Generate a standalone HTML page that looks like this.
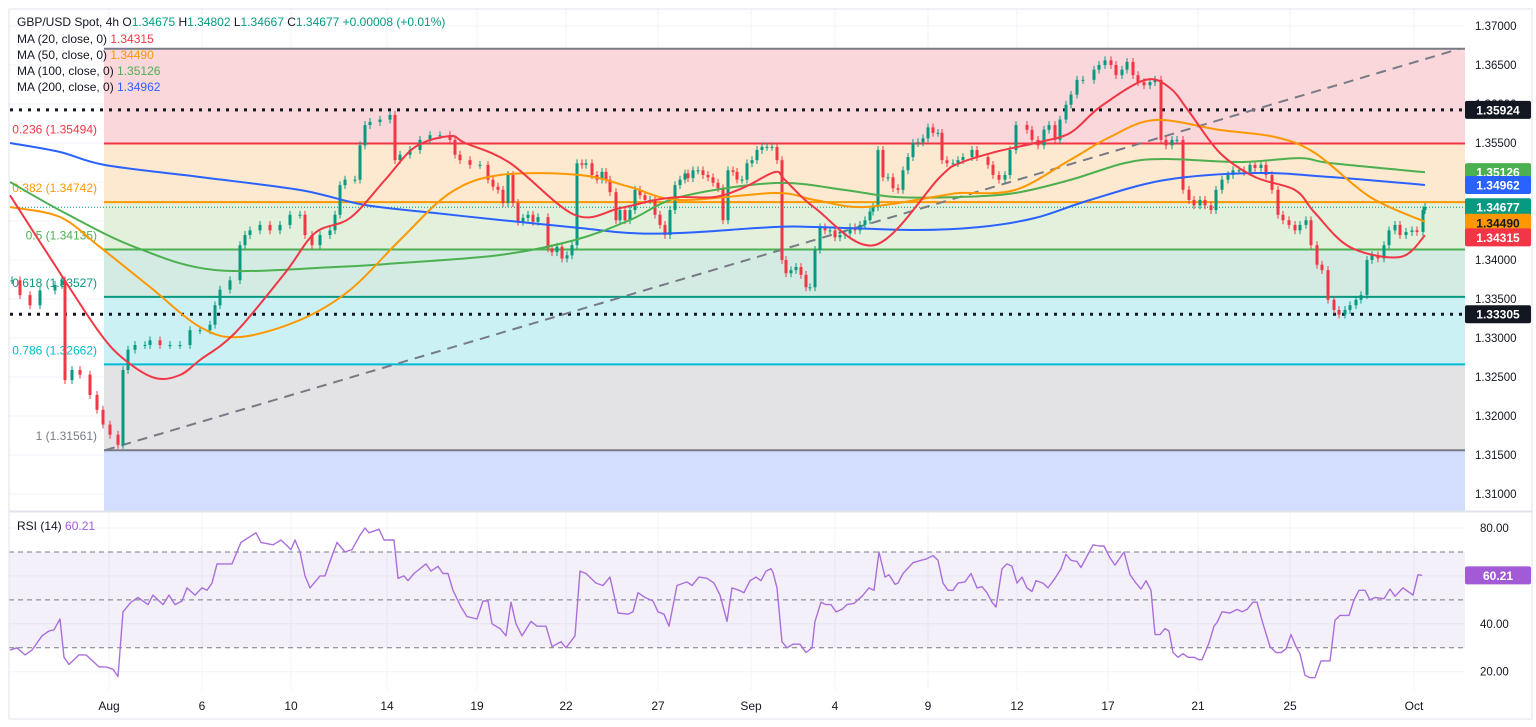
<!DOCTYPE html>
<html><head><meta charset="utf-8"><style>
html,body{margin:0;padding:0;background:#fff;}
svg{display:block;font-family:"Liberation Sans",sans-serif;}
</style></head><body>
<svg id="chart" width="1536" height="727" viewBox="0 0 1536 727" xmlns="http://www.w3.org/2000/svg">
<defs><clipPath id="mainClip"><rect x="9" y="9" width="1456" height="502"/></clipPath>
<clipPath id="rsiClip"><rect x="9" y="512" width="1456" height="178"/></clipPath></defs>
<g id="grid"></g>
<g id="fib" clip-path="url(#mainClip)"></g>
<g id="lines" clip-path="url(#mainClip)"></g>
<g id="candles" clip-path="url(#mainClip)"></g>
<g id="mas" clip-path="url(#mainClip)"></g>
<g id="rsi"></g>
<g id="axes"></g>
<g id="legend" font-size="12">
  <text x="17" y="26" fill="#131722">GBP/USD Spot, 4h <tspan fill="#131722"> O</tspan><tspan fill="#089981">1.34675</tspan><tspan fill="#131722"> H</tspan><tspan fill="#089981">1.34802</tspan><tspan fill="#131722"> L</tspan><tspan fill="#089981">1.34667</tspan><tspan fill="#131722"> C</tspan><tspan fill="#089981">1.34677 +0.00008 (+0.01%)</tspan></text>
  <text x="17" y="43" fill="#131722">MA (20, close, 0) <tspan fill="#f23645">1.34315</tspan></text>
  <text x="17" y="59" fill="#131722">MA (50, close, 0) <tspan fill="#ff9800">1.34490</tspan></text>
  <text x="17" y="75" fill="#131722">MA (100, close, 0) <tspan fill="#4caf50">1.35126</tspan></text>
  <text x="17" y="91" fill="#131722">MA (200, close, 0) <tspan fill="#2962ff">1.34962</tspan></text>
  <text x="17" y="530" fill="#131722">RSI (14) <tspan fill="#a25ad6">60.21</tspan></text>
</g>
</svg>
<script>
// ---- data ----
const candleT = [2.4,4,6,8,11,12.4,13,14.4,16,18,19.4,20.6,22,23.6,24.6,25.6,27,29,30,32,34,36,38,40,42,43,44,46,48,49,50,52,54,56,58,60,61,62.4,64,66,67,68,69,71,72,73,74,76,78,79,80,82,84,86,88,90,91,92,94,96,
97.6,98.6,99.6,100.6,101.6,102.6,103.6,104.6,105.6,106.6,107.6,109.6,110.4,111.4,112.4,113.4,114.4,115.4,116.4,117.2,118.4,119.4,120.4,121.2,122,123.2,124,125,126,127,128,129,130,131,132,133,134,135,136,137,137.6,138.6,139.6,140.6,141.6,142.6,143.6,144.6,145.6,146.6,147.4,148.4,149.4,150.4,151.4,152.4,153.4,154.4,155.4,156.4,157.2,158.2,159.2,160.2,161.2,162,163,164,165,166,167,168,169,170,171,172,173,174,174.6,175.6,176.6,177.6,178.6,179.6,180.6,181.6,182.6,183.6,184.6,185.6,186.6,187.6,188.4,189.4,190.6,191.6,192.6,194.4,195.4,
197.6,198.6,199.8,201,202,203.2,205.4,206.4,207.6,208.8,209.8,211,212,213.2,214.2,215.4,216.6,218.8,219.8,221,222.2,223.2,224.4,225.4,226.6,227.6,228.8,230,231,232.2,233.2,234.4,235.4,236.6,237.8,238.8,240,241,242.2,243.2,244.4,245.6,246.6,247.8,248.8,250,251,252.2,253.2,254.4,255.6,256.6,257.8,259,260,261.2,262.2,263.4,264.4,265.6,266.8,267.8,269,270,271.2,272.2,273.4,274.4,275.6,276.8,277.8,279,280,281.2,282.4,283.4,284.6,285];
const candleClose = [1.3374,1.3355,1.3342,1.3361,1.3368,1.3374,1.3246,1.3259,1.3253,1.3227,1.3208,1.3189,1.3176,1.3163,1.3259,1.3285,1.3291,1.3291,1.3297,1.3291,1.3291,1.3291,1.3310,1.3310,1.3317,1.3342,1.3362,1.3374,1.3419,1.3432,1.3438,1.3445,1.3438,1.3445,1.3458,1.3458,1.3432,1.3419,1.3432,1.3438,1.3458,1.3496,1.3503,1.3503,1.3547,1.3573,1.3577,1.3580,1.3586,1.3528,1.3535,1.3541,1.3554,1.3560,1.3560,1.3554,1.3535,1.3528,1.3522,1.3522,
1.3503,1.3494,1.3490,1.3473,1.3509,1.3473,1.3449,1.3454,1.3458,1.3449,1.3455,1.3415,1.3410,1.3417,1.3402,1.3406,1.3419,1.3524,1.3522,1.3524,1.3509,1.3503,1.3513,1.3503,1.3487,1.3451,1.3464,1.3451,1.3464,1.3490,1.3483,1.3477,1.3477,1.3458,1.3445,1.3432,1.3464,1.3496,1.3503,1.3511,1.3505,1.3515,1.3515,1.3509,1.3506,1.3499,1.3492,1.3451,1.3515,1.3513,1.3503,1.3503,1.3524,1.3528,1.3541,1.3545,1.3545,1.3545,1.3528,1.3400,1.3383,1.3387,1.3391,1.3381,1.3365,1.3365,1.3413,1.3442,1.3438,1.3438,1.3429,1.3432,1.3434,1.3442,1.3438,1.3445,1.3451,1.3462,1.3468,1.3541,1.3506,1.3506,1.3492,1.3490,1.3515,1.3532,1.3550,1.3551,1.3556,1.3570,1.3563,1.3563,1.3528,1.3524,1.3524,1.3528,1.3532,1.3541,1.3532,
1.3522,1.3509,1.3503,1.3509,1.3541,1.3573,1.3567,1.3554,1.3547,1.3567,1.3573,1.3554,1.3580,1.3599,1.3612,1.3631,1.3631,1.3644,1.3650,1.3656,1.3650,1.3637,1.3644,1.3654,1.3637,1.3628,1.3624,1.3628,1.3631,1.3554,1.3547,1.3554,1.3554,1.3490,1.3477,1.3470,1.3477,1.3470,1.3464,1.3490,1.3503,1.3509,1.3515,1.3515,1.3513,1.3522,1.3518,1.3522,1.3509,1.3490,1.3458,1.3451,1.3445,1.3438,1.3445,1.3451,1.3419,1.3394,1.3387,1.3349,1.3336,1.3330,1.3336,1.3342,1.3349,1.3355,1.3400,1.3406,1.3402,1.3419,1.3438,1.3445,1.3432,1.3436,1.3438,1.3436,1.3464,1.3468];

const ma20T = [2,12,20,25,31,36,40,47,57,63,70,77,83,90,93,102,115,124,131,136,143,149,155,157,163,175,188,192,199,207,214,220,229,234,238,244,251,259,263,270,280,285];
const ma20V = [1.3483,1.33833,1.3306,1.32718,1.32487,1.32526,1.32718,1.33064,1.33833,1.34346,1.34538,1.35026,1.35448,1.35589,1.355,1.35243,1.34577,1.34666,1.34769,1.34808,1.34808,1.34936,1.35128,1.35026,1.34666,1.34192,1.35064,1.35243,1.35384,1.355,1.35628,1.35961,1.36308,1.36205,1.35884,1.35372,1.35064,1.34897,1.34602,1.34166,1.34038,1.34315];
const ma50T = [2,12,20,30,40,48,60,70,80,90,100,116,126,136,155,163,173,189,192,203,214,222,231,244,255,263,274,285];
const ma50V = [1.34679,1.34551,1.34166,1.33654,1.33141,1.33013,1.33231,1.33615,1.34256,1.34859,1.3509,1.3509,1.34936,1.34769,1.34859,1.34769,1.34679,1.34833,1.34859,1.34897,1.35282,1.35577,1.35795,1.35667,1.35577,1.35372,1.34808,1.3449];
const ma100T = [2,13,27,43,67,80,100,115,126,136,155,169,179,192,203,214,225,233,248,260,266,285];
const ma100V = [1.35,1.34602,1.34166,1.33872,1.3391,1.33961,1.34064,1.34256,1.34513,1.34808,1.34987,1.34897,1.34808,1.34808,1.34859,1.35026,1.35243,1.35295,1.35256,1.35307,1.35243,1.35126];
const ma200T = [2,12,21,40,60,73,87,100,116,126,136,155,163,183,196,207,218,233,251,266,285];
const ma200V = [1.355,1.35384,1.35218,1.35064,1.34897,1.34705,1.34602,1.34513,1.3441,1.34346,1.34346,1.34423,1.34423,1.34385,1.34423,1.34538,1.34769,1.35026,1.35115,1.35064,1.34962];

const rsiT = [2,3.4,5,6.4,8.4,9.8,10.8,12,12.8,13.8,15.8,17.2,19.8,21.2,22.6,23.6,24.6,26.2,27.6,29.6,30.6,32.6,33.8,35,36.4,37.4,39,40.4,41.4,42.4,43.4,46.4,48.2,51.2,52.2,54.6,56.2,58.2,59,60,61,62,64,65,66,67.4,69,70.4,72,73,73.8,75.8,76.8,78.8,79.6,80.8,81.6,82.8,85.2,86.2,87.6,88.6,89.6,90.6,92.2,93.4,95.4,96.6,97.6,98.4,100,101.2,102.2,103.2,104.4,106.2,107.4,109.2,110.4,112.2,113.2,115,116,117.2,119.2,120.6,122,123.6,125.6,126.6,127.6,129,130.6,131.6,132.8,133.8,135.4,137.4,138.4,139.8,141.4,142.8,144,145.4,146.4,147.8,148.8,150,151.2,152.2,153.2,154.2,154.6,155.4,156.4,157.4,158.6,160,161.2,162.4,163,164.2,165.2,166.2,167.2,168.4,169.4,170.8,172.4,173.8,174.8,175.8,177,177.8,179,179.6,180.6,182.6,184.2,185.2,186.6,187.6,188.6,189.6,190.6,191.6,193,194.2,195.4,196.4,197.4,198.4,199.2,200.4,201.4,202.4,203.4,204.4,205.4,206.4,207.2,208.6,209.6,211,212.2,213.2,214.2,215.4,216.2,218.6,219.8,220.8,222,223,224.8,226,227.2,228.2,229.2,230.2,231,232,233,233.8,234.6,235.6,236.6,237.6,238.8,239.8,240.4,241.8,242.8,243.4,244.4,246,247.4,248.4,249.4,250.6,251.4,252.6,254,255.2,256.2,257.2,258.2,259.2,260,261,262,263,264.2,266,267,268,269.8,270.8,271.8,273,274,275,276.8,278,279,280.6,281.6,282.6,283.6,284.4];
const rsiV = [29,30,27,29,35,37,37.5,42,26,23,27,27,22,22,21,18,45,49,51,48,52,48,52,48,49.5,55,52,55,54,57,65,65,74,78,74,73,75,71,75,70,60,55,60,60,66,74,70,71,77,80,78,79.5,75,75,59,60,58,61,65,62,64,61,61,54,47,43,42,49.5,49.5,40,38,35,49,40,35,41,39,39,30.5,32.5,30,35,62,61,57,56,59.5,44.5,44,45,53,51,49.5,45,44,39,56,57.5,56,59.5,59,57,52,41,55,54,53,58,59.5,58,62,63,61.5,55,32.5,30,31.5,31.5,28,30,41,49,48,48,45,46,48,48.5,51.5,55,54,70,59.5,60.5,56.5,57,61,65.5,66.5,67,68.5,66.5,57,54,54,57,57.5,61,55,55.5,53,49,47,63,65,64,57,59.5,55,53.5,58,57,55,59,63,69,66.5,66,63.5,73,72.5,72.5,67.5,64.5,70,60.5,57,54.5,58,54,35.5,35.5,38,37,28,26,27.5,26,26,25,25,32,39,40.5,45,44.5,46,45,46,49,49,40,30.5,28,28,29.5,35.5,30.5,27.5,18.5,17.5,17.5,24.5,24.5,41.5,43.5,43.5,50,54,54,50,51,50.5,54.5,51.5,55,53.5,52,60.5,60.2];

const priceTicks = [1.37,1.365,1.36,1.355,1.35,1.345,1.34,1.335,1.33,1.325,1.32,1.315,1.31];
const priceTickLabels = ["1.37000","1.36500","1.36000","1.35500","1.35000","1.34500","1.34000","1.33500","1.33000","1.32500","1.32000","1.31500","1.31000"];
const rsiTicks = [80,60,40,20];
const rsiTickLabels = ["80.00","60.00","40.00","20.00"];
const dateLabels = ["Aug","6","10","14","19","22","27","Sep","4","9","12","17","21","25","Oct"];
const dateT = [21.8,40.4,58.2,77.4,95.4,113.2,131.6,150.2,167,185.6,203.4,221.6,239.6,258,282.8];
const fibRatios = ["0","0.236","0.382","0.5","0.618","0.786","1"];
const fibPrices = [1.36709,1.35494,1.34742,1.34135,1.33527,1.32662,1.31561];
const fibStartT = 20.8;
const trendT = [21, 292];
const trendV = [1.31561, 1.36709];
const keyLevels = [1.35924, 1.33305];
const lastPrice = 1.34677;
const maLast = [1.34315,1.3449,1.35126,1.34962];
const rsiLast = 60.21;

// ---- scales ----
const NS = "http://www.w3.org/2000/svg";
const xS = t => t * 5;
const yP = p => 26 + (1.37 - p) * 7800;
const yR = v => 528 + (80 - v) * 2.395;
const PR = 1465;
function mk(tag, attrs, parent) { const e = document.createElementNS(NS, tag); for (const k in attrs) e.setAttribute(k, attrs[k]); parent.appendChild(e); return e; }
const G = id => document.getElementById(id);

// grid
const grid = G('grid');
priceTicks.forEach(p => { const l = mk('line', {x1: 9, x2: PR, y1: yP(p), y2: yP(p), stroke: '#f0f3fa'}, grid);

 });
rsiTicks.forEach(v => { const l = mk('line', {x1: 9, x2: PR, y1: yR(v), y2: yR(v), stroke: '#f0f3fa'}, grid);

 });
dateT.forEach(t => { const l = mk('line', {x1: xS(t), x2: xS(t), y1: 9, y2: 690, stroke: '#f0f3fa'}, grid);

 });

// fib
const fib = G('fib');
const fibFill = ['#fad7da','#fde9cf','#e2f0dc','#d3ebe2','#ccf1f4','#e3e3e5'];
const fibLine = ['#787b86','#f23645','#ff9800','#4caf50','#089981','#00bcd4','#787b86'];
const fx = xS(fibStartT);
for (let i = 0; i < fibPrices.length - 1; i++) {
  const r = mk('rect', {x: fx, y: yP(fibPrices[i]), width: PR - fx, height: yP(fibPrices[i+1]) - yP(fibPrices[i]), fill: fibFill[i]}, fib);
  
  
}
{ const r = mk('rect', {x: fx, y: yP(fibPrices[6]), width: PR - fx, height: 511 - yP(fibPrices[6]), fill: '#d3defe'}, fib);
  
   }
fibPrices.forEach((p, i) => {
  const l = mk('line', {x1: fx, x2: PR, y1: yP(p), y2: yP(p), stroke: fibLine[i], 'stroke-width': 2}, fib);
  
  
  if (i > 0) {
    const tx = mk('text', {x: 97, y: yP(p) - 10, 'text-anchor': 'end', 'font-size': 12, fill: fibLine[i]}, fib);
    tx.textContent = fibRatios[i] + ' (' + p.toFixed(5) + ')';
    
    
  }
});

// key lines
const lines = G('lines');
keyLevels.forEach(p => { const l = mk('line', {x1: 10, x2: PR, y1: yP(p), y2: yP(p), stroke: '#131722', 'stroke-width': 3, 'stroke-dasharray': '3 6'}, lines);

 });
{ const l = mk('line', {x1: 10, x2: PR, y1: yP(lastPrice), y2: yP(lastPrice), stroke: '#089981', 'stroke-width': 1, 'stroke-dasharray': '1 2'}, lines);

 }
{ const l = mk('line', {x1: xS(trendT[0]), x2: xS(trendT[1]), y1: yP(trendV[0]), y2: yP(trendV[1]), stroke: '#787b86', 'stroke-width': 2, 'stroke-dasharray': '10 7'}, lines);

 }

// candles
const cg = G('candles');
candleClose.forEach((c, i) => {
  const o = i > 0 ? candleClose[i-1] : c;
  const up = c >= o;
  const col = up ? '#089981' : '#f23645';
  const x = xS(candleT[i]);
  const hi = Math.max(o, c) + 0.0005, lo = Math.min(o, c) - 0.0005;
  const w = mk('line', {x1: x, x2: x, y1: yP(hi), y2: yP(lo), stroke: col, 'stroke-width': 1}, cg);
  
  
  const yt = yP(Math.max(o, c)), yb = yP(Math.min(o, c));
  const b = mk('rect', {x: x - 1.5, y: yt, width: 3, height: Math.max(1, yb - yt), fill: col}, cg);
  
  
});

// MAs (smooth)
const mg = G('mas');
function smoothPath(ts, vs, yf) {
  const P = ts.map((t, i) => [xS(t), yf(vs[i])]);
  let d = 'M' + P[0][0].toFixed(1) + ',' + P[0][1].toFixed(1);
  for (let i = 0; i < P.length - 1; i++) {
    const p0 = P[Math.max(0, i-1)], p1 = P[i], p2 = P[i+1], p3 = P[Math.min(P.length-1, i+2)];
    const c1x = p1[0] + (p2[0]-p0[0])/6, c1y = p1[1] + (p2[1]-p0[1])/6;
    const c2x = p2[0] - (p3[0]-p1[0])/6, c2y = p2[1] - (p3[1]-p1[1])/6;
    d += ' C' + c1x.toFixed(1) + ',' + c1y.toFixed(1) + ' ' + c2x.toFixed(1) + ',' + c2y.toFixed(1) + ' ' + p2[0].toFixed(1) + ',' + p2[1].toFixed(1);
  }
  return d;
}
function maLine(ts, vs, col, name) {
  const p = mk('path', {d: smoothPath(ts, vs, yP), fill: 'none', stroke: col, 'stroke-width': 2, 'stroke-linejoin': 'round'}, mg);
  
  
}
maLine(ma200T, ma200V, '#2962ff', 'ma200-line');
maLine(ma100T, ma100V, '#4caf50', 'ma100-line');
maLine(ma50T, ma50V, '#ff9800', 'ma50-line');
maLine(ma20T, ma20V, '#f23645', 'ma20-line');

// RSI
const rg = G('rsi');
{ const r = mk('rect', {x: 9, y: yR(70), width: PR - 9, height: yR(30) - yR(70), fill: '#7e57c2', 'fill-opacity': 0.09}, rg);

 }
[70, 50, 30].forEach(v => { const l = mk('line', {x1: 9, x2: PR, y1: yR(v), y2: yR(v), stroke: '#787b86', 'stroke-dasharray': '5 4'}, rg);

 });
{ const pts = rsiT.map((t, i) => xS(t).toFixed(1) + ',' + yR(rsiV[i]).toFixed(1)).join(' ');
  const p = mk('polyline', {points: pts, fill: 'none', stroke: '#ab6fdc', 'stroke-width': 1.4, 'stroke-linejoin': 'round'}, rg);
  
   }

// axes
const ax = G('axes');
{ const r = mk('rect', {x: 9, y: 9, width: 1523, height: 710, fill: 'none', stroke: '#e0e3eb'}, ax);

 }
{ const l = mk('line', {x1: 9, x2: 1532, y1: 511.5, y2: 511.5, stroke: '#e0e3eb', 'stroke-width': 2}, ax);

 }
priceTicks.forEach((p, i) => { const t = mk('text', {x: 1475, y: yP(p) + 4, 'font-size': 11.5, fill: '#131722'}, ax);
t.textContent = priceTickLabels[i];

 });
rsiTicks.forEach((v, i) => { const t = mk('text', {x: 1480, y: yR(v) + 4, 'font-size': 11.5, fill: '#131722'}, ax);
t.textContent = rsiTickLabels[i];

 });
dateT.forEach((t, i) => { const tx = mk('text', {x: xS(t), y: 710, 'font-size': 12, fill: '#131722', 'text-anchor': 'middle'}, ax);
tx.textContent = dateLabels[i];

 });
function tag(v, y, bg, fg, name) {
  const r = mk('rect', {x: 1465, y: y - 9, width: 66, height: 18, fill: bg, rx: 2}, ax);
  
  
  const t = mk('text', {x: 1498, y: y + 4.5, 'font-size': 12, 'font-weight': 'bold', fill: fg, 'text-anchor': 'middle'}, ax);
  t.textContent = v;
  
  
}
tag(keyLevels[0].toFixed(5), yP(keyLevels[0]), '#131722', '#fff', 'key-level-tag');
tag(maLast[2].toFixed(5), yP(maLast[2]), '#4caf50', '#fff', 'ma100-tag');
tag(maLast[3].toFixed(5), yP(maLast[3]), '#2962ff', '#fff', 'ma200-tag');
tag(lastPrice.toFixed(5), yP(lastPrice), '#089981', '#fff', 'last-price-tag');
tag(maLast[1].toFixed(5), yP(maLast[1]) + 1, '#ff9800', '#131722', 'ma50-tag');
tag(maLast[0].toFixed(5), yP(maLast[0]) + 2, '#f23645', '#fff', 'ma20-tag');
tag(keyLevels[1].toFixed(5), yP(keyLevels[1]), '#131722', '#fff', 'key-level-tag');
tag(rsiLast.toFixed(2), yR(rsiLast), '#a25ad6', '#fff', 'rsi-tag');
</script>
</body></html>
